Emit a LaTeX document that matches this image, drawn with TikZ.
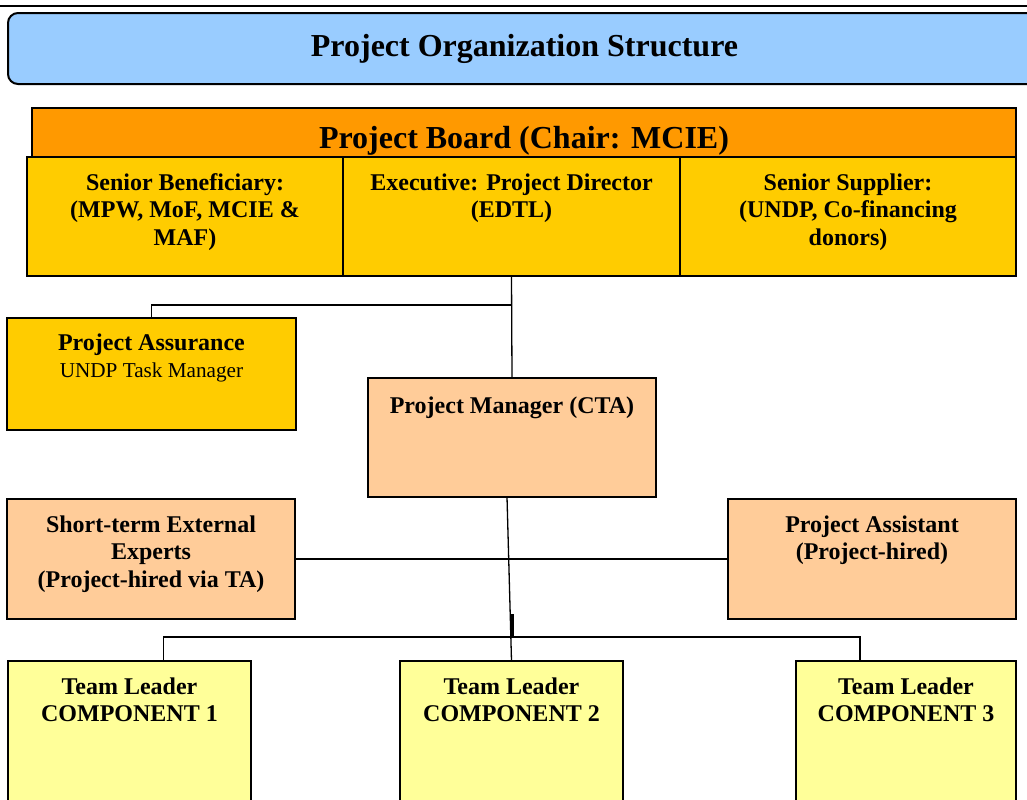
\documentclass[tikz,border=0pt]{standalone}
\usepackage{fontspec}
\setmainfont{Liberation Serif}
\usepackage{xcolor}
\usetikzlibrary{positioning}

\definecolor{titleblue}{HTML}{99CCFF}
\definecolor{boardorange}{HTML}{FF9900}
\definecolor{boardgold}{HTML}{FFCC00}
\definecolor{staffpeach}{HTML}{FFCC99}
\definecolor{leaderyellow}{HTML}{FFFF99}

\tikzset{
	orgbox/.style={draw, line width=1pt, inner sep=0pt, outer sep=0pt, anchor=north west},
	boxtext/.style={anchor=north, align=center, inner sep=0pt, yshift=-8pt, font=\fontsize{12}{13.8}\selectfont\bfseries, execute at begin node=\strut},
	headtext/.style={font=\fontsize{16}{19}\selectfont\bfseries},
	headlabel/.style={anchor=base, inner sep=0pt, yshift=-20pt, headtext},
	link/.style={line width=0.65pt},
}

\begin{document}
\begin{tikzpicture}[x=0.5pt, y=-0.5pt]
			
			\clip (0,0) rectangle (1027,799);
			
			% Rule across the top
			\draw[line width=1.2pt] (0,6) -- (1027,6);
			
			% Title bar
			\node[orgbox, fill=titleblue, rounded corners=5pt, minimum width=516.5pt, minimum height=35.5pt, label={[headlabel, yshift=-1.8pt]north:Project Organization Structure}] (title) at (8,13) {};
			
			% Board seats: beneficiary, executive, supplier
			\node[orgbox, fill=boardgold, minimum width=158pt, minimum height=59.5pt, label={[boxtext]north:Senior Beneficiary:\\(MPW, MoF, MCIE \&\\MAF)}] (benef) at (27,157) {};
			\node[orgbox, fill=boardgold, minimum width=168.5pt, minimum height=59.5pt, right=0pt of benef, label={[boxtext]north:Executive: Project Director\\(EDTL)}] (exec) {};
			\node[orgbox, fill=boardgold, minimum width=168pt, minimum height=59.5pt, right=0pt of exec, label={[boxtext]north:Senior Supplier:\\(UNDP, Co-financing\\donors)}] (supplier) {};
			
			% Board heading on top of the seats
			\node[orgbox, fill=boardorange, minimum width=492pt, minimum height=24.5pt, label={[headlabel]north:Project Board (Chair: MCIE)}] (board) at (32,108) {};
			
			% Assurance and manager
			\node[orgbox, fill=boardgold, minimum width=144.5pt, minimum height=56pt, label={[boxtext, yshift=0.4pt]north:Project Assurance\\{\fontsize{10.6}{12}\selectfont\mdseries UNDP Task Manager}}] (assure) at (7,318) {};
			\node[orgbox, fill=staffpeach, minimum width=144pt, minimum height=59.5pt, label={[boxtext]north:Project Manager (CTA)}] (pm) at (368,378) {};
			
			% Support staff
			\node[orgbox, fill=staffpeach, minimum width=144pt, minimum height=60pt, label={[boxtext]north:Short-term External\\Experts\\(Project-hired via TA)}] (experts) at (7,499) {};
			\node[orgbox, fill=staffpeach, minimum width=144pt, minimum height=60pt, label={[boxtext]north:Project Assistant\\(Project-hired)}] (assist) at (728,499) {};
			
			% Team leaders
			\node[orgbox, fill=leaderyellow, minimum width=121.5pt, minimum height=100pt, label={[boxtext]north:Team Leader\\COMPONENT 1}] (lead1) at (8,661) {};
			\node[orgbox, fill=leaderyellow, minimum width=111.5pt, minimum height=100pt, label={[boxtext]north:Team Leader\\COMPONENT 2}] (lead2) at (400,661) {};
			\node[orgbox, fill=leaderyellow, minimum width=110pt, minimum height=100pt, label={[boxtext]north:Team Leader\\COMPONENT 3}] (lead3) at (796,661) {};
			
			% Lines of reporting
			\draw[link] (exec.south) -- ++(0,29) -| (assure.north);
			\draw[link] (exec.south) -- (pm.north);
			\draw[link] ([xshift=-2.5pt]pm.south) -- (lead2.north);
			\draw[link] (experts.east) -- (assist.west);
			\draw[link] ([xshift=17pt]lead1.north) -- ++(0,-24) -| ([xshift=-23pt]lead3.north);
			\draw[line width=1.5pt] ([xshift=0.5pt,yshift=12pt]lead2.north) -- ++(0,-23);
			
		\end{tikzpicture}
\end{document}
